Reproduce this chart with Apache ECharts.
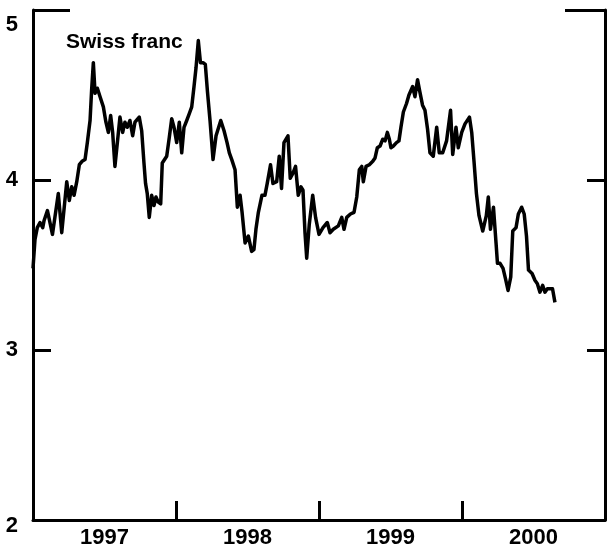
<!DOCTYPE html>
<html>
<head>
<meta charset="utf-8">
<script src="https://cdn.jsdelivr.net/npm/echarts@6/dist/echarts.min.js"></script>
<style>
html,body{margin:0;padding:0;background:#fff;}
#chart{width:608px;height:550px;}
</style>
</head>
<body>
<div id="chart"></div>
<script>
// Swiss franc (weekly-ish readings), x in decimal years
const years = [
1997.000,1997.014,1997.030,1997.049,1997.068,1997.077,1997.101,1997.136,1997.177,1997.201,
1997.236,1997.254,1997.271,1997.287,1997.306,1997.324,1997.343,1997.364,1997.380,1997.399,
1997.410,1997.422,1997.434,1997.450,1997.469,1997.492,1997.510,1997.527,1997.543,1997.557,
1997.573,1997.590,1997.608,1997.627,1997.643,1997.659,1997.678,1997.697,1997.713,1997.743,
1997.760,1997.776,1997.787,1997.799,1997.813,1997.830,1997.846,1997.860,1997.876,1997.893,
1997.904,1997.916,1997.935,1997.953,1997.970,1997.986,1998.005,1998.023,1998.040,1998.056,
1998.075,1998.093,1998.110,1998.126,1998.140,1998.156,1998.171,1998.189,1998.205,1998.220,
1998.238,1998.259,1998.280,1998.313,1998.336,1998.357,1998.373,1998.390,1998.413,1998.429,
1998.448,1998.462,1998.483,1998.506,1998.529,1998.545,1998.559,1998.576,1998.601,1998.622,
1998.638,1998.661,1998.678,1998.704,1998.722,1998.738,1998.755,1998.783,1998.799,1998.818,
1998.836,1998.855,1998.874,1998.888,1998.902,1998.914,1998.932,1998.956,1998.976,1999.000,
1999.028,1999.058,1999.077,1999.100,1999.135,1999.159,1999.175,1999.194,1999.220,1999.245,
1999.264,1999.282,1999.299,1999.310,1999.329,1999.352,1999.376,1999.392,1999.408,1999.427,
1999.446,1999.462,1999.478,1999.492,1999.503,1999.520,1999.542,1999.559,1999.573,1999.590,
1999.612,1999.629,1999.655,1999.671,1999.689,1999.705,1999.724,1999.741,1999.759,1999.776,
1999.799,1999.823,1999.841,1999.865,1999.892,1999.920,1999.935,1999.958,1999.974,1999.998,
2000.021,2000.052,2000.068,2000.084,2000.101,2000.119,2000.145,2000.170,2000.184,2000.199,
2000.220,2000.238,2000.248,2000.266,2000.287,2000.304,2000.322,2000.341,2000.355,2000.378,
2000.394,2000.417,2000.435,2000.451,2000.465,2000.490,2000.510,2000.527,2000.545,2000.564,
2000.580,2000.597,2000.619,2000.633,2000.650
];
const values = [
3.48,3.65,3.72,3.75,3.72,3.76,3.82,3.68,3.92,3.69,
3.99,3.88,3.96,3.91,3.99,4.09,4.11,4.12,4.22,4.35,
4.53,4.69,4.51,4.54,4.49,4.43,4.34,4.28,4.38,4.28,
4.08,4.22,4.37,4.28,4.34,4.31,4.35,4.26,4.34,4.37,
4.29,4.10,3.98,3.92,3.78,3.91,3.85,3.90,3.87,3.86,
4.10,4.11,4.14,4.25,4.36,4.31,4.22,4.34,4.16,4.31,
4.35,4.39,4.43,4.55,4.66,4.82,4.69,4.69,4.68,4.52,
4.35,4.12,4.26,4.35,4.29,4.22,4.16,4.12,4.06,3.84,
3.91,3.81,3.63,3.67,3.58,3.59,3.71,3.81,3.91,3.91,
3.98,4.09,3.98,3.99,4.14,3.95,4.22,4.26,4.01,4.04,
4.08,3.91,3.96,3.94,3.69,3.54,3.74,3.91,3.78,3.68,
3.72,3.75,3.69,3.71,3.73,3.78,3.71,3.78,3.80,3.81,
3.90,4.06,4.08,3.99,4.08,4.09,4.11,4.13,4.19,4.20,
4.24,4.23,4.28,4.24,4.19,4.20,4.22,4.23,4.31,4.40,
4.45,4.50,4.55,4.49,4.59,4.52,4.44,4.41,4.30,4.16,
4.14,4.31,4.16,4.16,4.23,4.41,4.15,4.31,4.19,4.28,
4.33,4.37,4.28,4.11,3.92,3.79,3.70,3.79,3.90,3.71,
3.84,3.63,3.51,3.51,3.48,3.42,3.35,3.43,3.70,3.72,
3.80,3.84,3.80,3.67,3.47,3.45,3.41,3.39,3.34,3.38,
3.34,3.36,3.36,3.36,3.28
];
const yTicks = [2, 3, 4, 5];
const yearLabels = ['1997', '1998', '1999', '2000'];
const title = 'Swiss franc';

const FONT = '"Liberation Sans", Arial, Helvetica, sans-serif';
const chart = echarts.init(document.getElementById('chart'), null, {renderer: 'canvas'});
const data = years.map((y, i) => [y, values[i]]);
const line3 = {color: '#000', width: 3};
const lbl = {color: '#000', fontFamily: FONT, fontSize: 22, fontWeight: 'bold'};

chart.setOption({
  animation: false,
  backgroundColor: '#fff',
  title: {
    text: title, left: 61, top: 27,
    textStyle: {fontFamily: FONT, fontSize: 21, fontWeight: 'bold', color: '#000'}
  },
  grid: {left: 33, right: 3, top: 10, bottom: 30, containLabel: false},
  xAxis: [
    {type: 'value', min: 1997, max: 2001, interval: 1,
     axisLine: {show: true, lineStyle: line3},
     axisTick: {show: true, inside: true, length: 19, lineStyle: line3},
     axisLabel: {show: false}, splitLine: {show: false}},
    {type: 'value', min: 1997, max: 2001, interval: 0.5, position: 'bottom',
     axisLine: {show: false}, axisTick: {show: false}, splitLine: {show: false},
     axisLabel: Object.assign({show: true, margin: 7,
       formatter: v => {
         const k = Math.round((v - 1997) * 2);
         return (k % 2 === 1) ? yearLabels[(k - 1) / 2] : '';
       }}, lbl)}
  ],
  yAxis: [
    {type: 'value', position: 'left', min: yTicks[0], max: yTicks[yTicks.length - 1], interval: 1,
     axisLine: {show: true, lineStyle: line3},
     axisTick: {show: true, inside: true, length: 18, lineStyle: line3},
     axisLabel: Object.assign({show: true, margin: 15,
       verticalAlignMaxLabel: 'top',
       formatter: v => (v === 5 ? '{t|5}' : (v === 2 ? '{b|2}' : String(v))),
       rich: {t: Object.assign({padding: [4, 0, 0, 0]}, lbl),
              b: Object.assign({padding: [12, 0, 0, 0]}, lbl)}}, lbl),
     splitLine: {show: false}},
    {type: 'value', position: 'right', min: 2, max: 5, interval: 1,
     axisLine: {show: true, lineStyle: line3},
     axisTick: {show: true, inside: true, length: 18, lineStyle: line3},
     axisLabel: {show: false}, splitLine: {show: false}},
    {type: 'value', position: 'left', min: 2, max: 5, interval: 3,
     axisLine: {show: false},
     axisTick: {show: true, inside: true, length: 37, lineStyle: line3},
     axisLabel: {show: false}, splitLine: {show: false}},
    {type: 'value', position: 'right', min: 2, max: 5, interval: 3,
     axisLine: {show: false},
     axisTick: {show: true, inside: true, length: 40, lineStyle: line3},
     axisLabel: {show: false}, splitLine: {show: false}}
  ],
  series: [{
    type: 'line', xAxisIndex: 0, yAxisIndex: 0, data: data,
    showSymbol: false, symbol: 'none',
    lineStyle: {color: '#000', width: 3.5, join: 'round'}
  }]
});
</script>
</body>
</html>
